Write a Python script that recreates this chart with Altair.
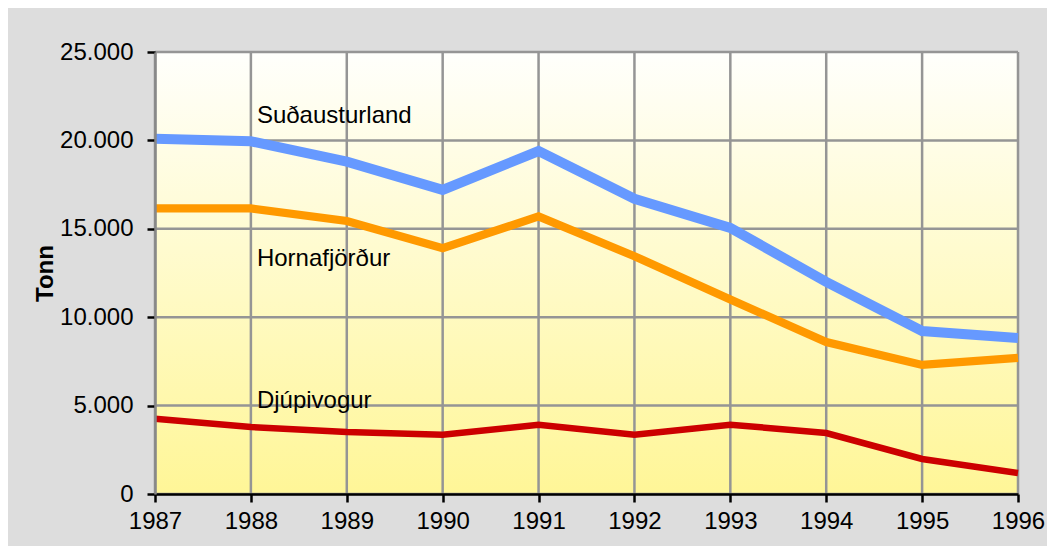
import altair as alt
import pandas as pd

years = [1987, 1988, 1989, 1990, 1991, 1992, 1993, 1994, 1995, 1996]
sudausturland = [20100, 19950, 18800, 17200, 19400, 16700, 15050, 12000, 9220, 8820]
hornafjordur = [16150, 16150, 15440, 13900, 15700, 13450, 11000, 8600, 7300, 7700]
djupivogur = [4250, 3790, 3500, 3350, 3920, 3350, 3920, 3450, 1980, 1190]

series_names = ["Suðausturland", "Hornafjörður", "Djúpivogur"]
series_colors = ["#6699ff", "#ff9900", "#cc0000"]
series_widths = [10, 6.5, 6]

label_year = [1988, 1988, 1988]
label_value = [21400, 13300, 5250]

y_ticks = [0, 5000, 10000, 15000, 20000, 25000]

W, H = 863, 442
FS = 24

rows = []
for name, vals in zip(series_names, [sudausturland, hornafjordur, djupivogur]):
    for yr, v in zip(years, vals):
        rows.append({"year": yr, "value": v, "series": name})
df = pd.DataFrame(rows)

labels_df = pd.DataFrame({"year": label_year, "value": label_value, "label": series_names})
xgrid_df = pd.DataFrame({"year": years})
ygrid_df = pd.DataFrame({"value": y_ticks})

xscale = alt.Scale(domain=[1987, 1996], nice=False, zero=False)
yscale = alt.Scale(domain=[0, 25000], nice=False)

fmt = "replace(format(datum.value, ',d'), ',', '.')"

bg = alt.Chart(alt.Data(values=[{}])).mark_rect(
    color=alt.LinearGradient(
        gradient="linear",
        stops=[alt.GradientStop(color="#fffffc", offset=0),
               alt.GradientStop(color="#fff697", offset=1)],
        x1=0, x2=0, y1=0, y2=1,
    )
).encode(x=alt.value(0), x2=alt.value(W), y=alt.value(0), y2=alt.value(H))

xgrid = alt.Chart(xgrid_df).mark_rule(color="#959595", strokeWidth=2.5).encode(
    x=alt.X("year:Q", scale=xscale)
)
ygrid = alt.Chart(ygrid_df).mark_rule(color="#959595", strokeWidth=2.5).encode(
    y=alt.Y("value:Q", scale=yscale)
)

lines = alt.Chart(df).mark_line(strokeJoin="miter").encode(
    x=alt.X("year:Q", scale=xscale,
            axis=alt.Axis(values=years, format="d", title=None, grid=False,
                          domainColor="black", domainWidth=2.5, tickColor="black",
                          tickWidth=2.5, tickSize=8, labelFontSize=FS,
                          labelFont="Liberation Sans", labelColor="black",
                          labelPadding=7, labelFlush=False, zindex=1)),
    y=alt.Y("value:Q", scale=yscale,
            axis=alt.Axis(values=y_ticks, labelExpr=fmt, title="Tonn", grid=False,
                          domainColor="#888888", domainWidth=2.5, tickColor="black",
                          tickWidth=2.5, tickSize=8, labelFontSize=FS,
                          labelFont="Liberation Sans", labelColor="black",
                          labelPadding=14, titleFontSize=FS, titleFont="Liberation Sans",
                          titleFontWeight="bold", titleColor="black", titlePadding=2,
                          zindex=1)),
    color=alt.Color("series:N", scale=alt.Scale(domain=series_names, range=series_colors), legend=None),
    strokeWidth=alt.StrokeWidth("series:N", scale=alt.Scale(domain=series_names, range=series_widths), legend=None),
)

texts = alt.Chart(labels_df).mark_text(
    align="left", baseline="middle", dx=6, fontSize=FS, font="Liberation Sans", color="black"
).encode(
    x=alt.X("year:Q", scale=xscale),
    y=alt.Y("value:Q", scale=yscale),
    text="label:N",
)

chart = alt.layer(bg, xgrid, ygrid, lines, texts).properties(
    width=W, height=H,
    autosize=alt.AutoSizeParams(type="none"),
    padding={"left": 147, "top": 44, "right": 29, "bottom": 52},
    background="#dddddd",
).configure_view(stroke=None)

chart.save("out.html", embed_options={"renderer": "svg", "actions": False})
